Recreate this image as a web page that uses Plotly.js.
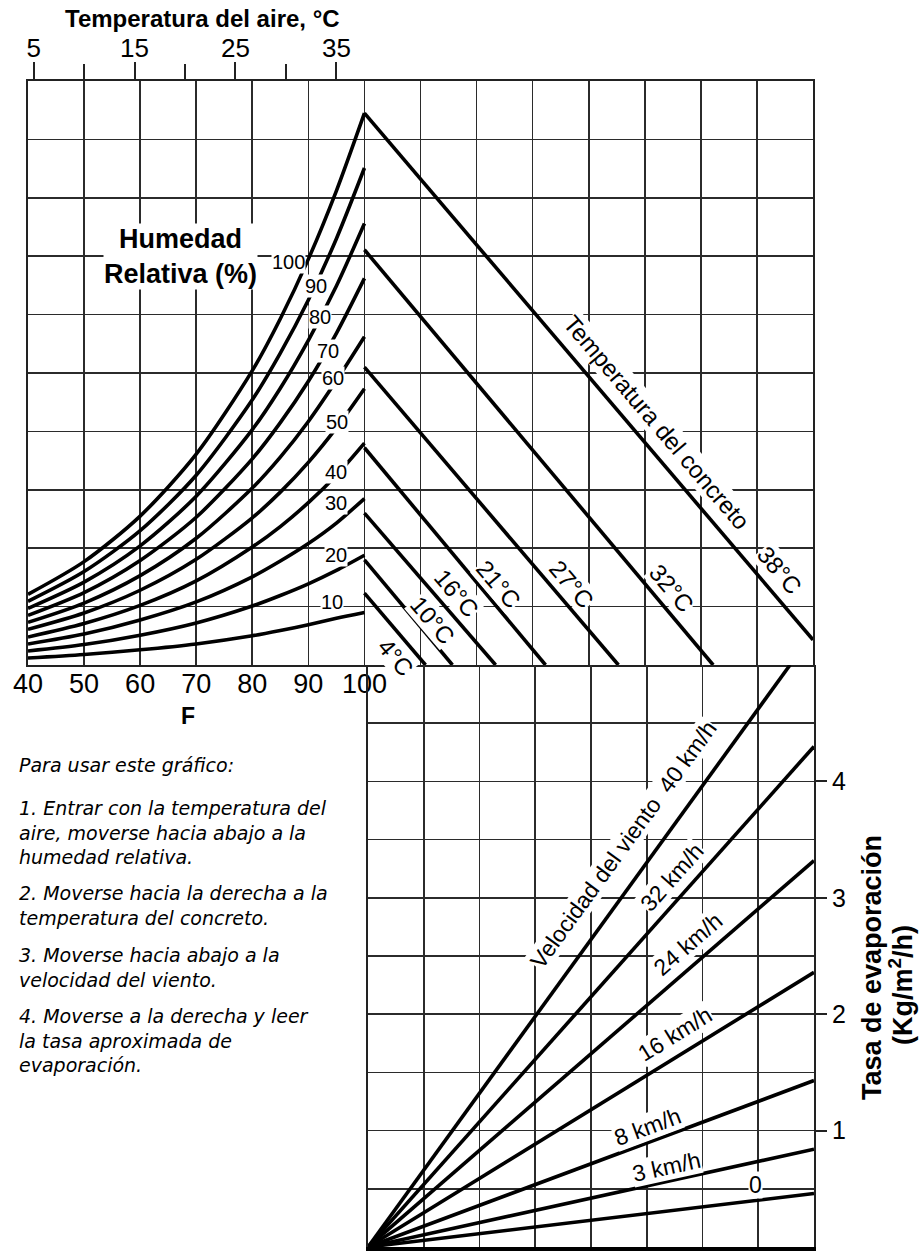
<!DOCTYPE html>
<html><head><meta charset="utf-8">
<script src="https://cdn.plot.ly/plotly-3.0.1.min.js"></script>
<style>html,body{margin:0;padding:0;background:#fff;overflow:hidden}</style>
</head><body><div id="chart" style="width:922px;height:1252px"></div>
<script>
const W = 922, H = 1252;

// ---------------- DATA ----------------
// Air temperature (°F) sample points for the relative-humidity curves
const airTempF = [40, 50, 60, 70, 80, 85, 90, 95, 100];
const rhLabels = ['100', '90', '80', '70', '60', '50', '40', '30', '20', '10'];
const rh100 = [1.21, 1.77, 2.55, 3.61, 5.04, 5.93, 6.95, 8.12, 9.45];
const rh90  = [1.09, 1.60, 2.30, 3.25, 4.54, 5.34, 6.25, 7.30, 8.51];
const rh80  = [0.97, 1.42, 2.04, 2.89, 4.03, 4.74, 5.56, 6.49, 7.56];
const rh70  = [0.85, 1.24, 1.79, 2.53, 3.53, 4.15, 4.86, 5.68, 6.62];
const rh60  = [0.73, 1.06, 1.53, 2.17, 3.03, 3.56, 4.17, 4.87, 5.62];
const rh50  = [0.61, 0.89, 1.28, 1.81, 2.52, 2.96, 3.47, 4.06, 4.73];
const rh40  = [0.48, 0.71, 1.02, 1.44, 2.02, 2.37, 2.78, 3.25, 3.80];
const rh30  = [0.36, 0.53, 0.77, 1.08, 1.51, 1.78, 2.08, 2.43, 2.85];
const rh20  = [0.24, 0.35, 0.51, 0.72, 1.01, 1.19, 1.39, 1.62, 1.88];
const rh10  = [0.12, 0.18, 0.26, 0.36, 0.50, 0.59, 0.69, 0.80, 0.90];
const rhSeries = [rh100, rh90, rh80, rh70, rh60, rh50, rh40, rh30, rh20, rh10];

// Concrete temperature lines (start at 100 °F column, run down-right)
const concreteLabels = ['4°C', '10°C', '16°C', '21°C', '27°C', '32°C', '38°C'];
const concreteStartVal = [1.23, 1.80, 2.60, 3.72, 5.10, 7.11, 9.45];
const concreteEndX = [110.9, 115.7, 123.4, 132.3, 145.3, 162.2, 180];
const concreteEndVal = [0, 0, 0, 0, 0, 0, 0.43];

// Wind-speed lines (from origin of lower panel)
const windLabels = ['0', '3 km/h', '8 km/h', '16 km/h', '24 km/h', '32 km/h', 'Velocidad del viento  40 km/h'];
const windEndX = [180, 180, 180, 180, 180, 180, 175.7];
const windEndRate = [0.46, 0.84, 1.43, 2.36, 3.32, 4.30, 5.0];

// Axis ticks
const fTicks = [40, 50, 60, 70, 80, 90, 100];
const fTickText = ['40', '50', '60', '70', '80', '90', '100'];
const cTicks = [5, 15, 25, 35];
const cTickText = ['5', '15', '25', '35'];
const cMinorTicks = [10, 20, 30];
const rateTicks = [1, 2, 3, 4];
const rateTickText = ['1', '2', '3', '4'];

const instructionParagraphs = [
  ['Para usar este gráfico:'],
  ['1. Entrar con la temperatura del', 'aire, moverse hacia abajo a la', 'humedad relativa.'],
  ['2. Moverse hacia la derecha a la', 'temperatura del concreto.'],
  ['3. Moverse hacia abajo a la', 'velocidad del viento.'],
  ['4. Moverse a la derecha y leer', 'la tasa aproximada de', 'evaporación.']
];

// ---------------- STYLE ----------------
const FONT = 'Liberation Sans, Arial, sans-serif';
const GRID = '#2b2b2b';
const LINE_W = 3.6;
const px = (x) => x / W;
const py = (y) => 1 - y / H;

const traces = [];
rhSeries.forEach((ys) => {
  traces.push({x: airTempF, y: ys, xaxis: 'x', yaxis: 'y', mode: 'lines',
    line: {color: '#000', width: LINE_W, shape: 'spline', smoothing: 0.8},
    hoverinfo: 'skip', showlegend: false});
});
concreteLabels.forEach((lab, i) => {
  traces.push({x: [100, concreteEndX[i]], y: [concreteStartVal[i], concreteEndVal[i]],
    xaxis: 'x', yaxis: 'y', mode: 'lines', line: {color: '#000', width: LINE_W},
    hoverinfo: 'skip', showlegend: false});
});
windLabels.forEach((lab, i) => {
  traces.push({x: [100, windEndX[i]], y: [0, windEndRate[i]],
    xaxis: 'x2', yaxis: 'y2', mode: 'lines', line: {color: '#000', width: LINE_W},
    hoverinfo: 'skip', showlegend: false});
});
// carrier trace for the Celsius top axis
traces.push({x: [cTicks[0], cTicks[cTicks.length - 1]], y: [0, 0], xaxis: 'x3', yaxis: 'y',
  mode: 'markers', marker: {opacity: 0, size: 1}, hoverinfo: 'skip', showlegend: false});

const annotations = [];
function ann(text, x, y, opt) {
  const o = Object.assign({size: 20, angle: 0, bg: null, xanchor: 'center', align: 'center', bold: false, italic: false, family: FONT}, opt || {});
  const a = {
    text: o.bold ? '<b>' + text + '</b>' : (o.italic ? '<i>' + text + '</i>' : text),
    x: px(x), y: py(y), xref: 'paper', yref: 'paper', showarrow: false,
    xanchor: o.xanchor, yanchor: 'middle', textangle: o.angle, align: o.align,
    font: {family: o.family, size: o.size, color: '#000'}
  };
  if (o.bg) { a.bgcolor = o.bg; a.borderpad = 0; }
  annotations.push(a);
}

// Titles
ann('Temperatura del aire, °C', 202, 18, {size: 24, bold: true});
ann('Humedad<br>Relativa (%)', 180, 256, {size: 27, bold: true, bg: '#fff'});
ann('F', 188, 716, {size: 23, bold: true});

// RH labels
const rhLabelPos = [[288, 262], [316, 286], [320, 317], [328, 351], [333, 378], [337, 422], [336, 472], [336, 503], [336, 555], [332, 602]];
rhLabels.forEach((t, i) => ann(t, rhLabelPos[i][0], rhLabelPos[i][1], {size: 20, bg: '#fff'}));

// Concrete labels
const cAng = 49.6;
ann('Temperatura del concreto', 657, 422, {size: 24, angle: cAng, bg: '#fff'});
const concreteLabelPos = [[396, 657], [433, 620], [457, 593], [499, 584], [572, 584], [672, 588], [780, 570]];
concreteLabels.forEach((t, i) => ann(t, concreteLabelPos[i][0], concreteLabelPos[i][1], {size: 24, angle: cAng, bg: '#fff'}));

// Wind labels
const windLabelPos = [[755, 1185], [666, 1167], [647, 1127], [675, 1034], [688, 944], [672, 877], [623, 845]];
const windAngles = [0, -12.4, -20.4, -31.7, -41, -48.3, -54];
windLabels.forEach((t, i) => ann(t, windLabelPos[i][0], windLabelPos[i][1], {size: 23, angle: windAngles[i], bg: '#fff'}));

// Right axis title
ann('Tasa de evaporación', 872, 968, {size: 27, bold: true, angle: -90});
ann('(Kg/m<sup>2</sup>/h)', 901, 985, {size: 27, bold: true, angle: -90});

// Instructions (one block per paragraph)
const instrCenters = [765, 832, 905, 967, 1040];
instructionParagraphs.forEach((lines, i) => ann(lines.join('<br>'), 17, instrCenters[i],
  {size: 19, italic: true, xanchor: 'left', align: 'left', family: 'DejaVu Sans, Open Sans, sans-serif'}));

const gridCommon = {showgrid: true, gridcolor: GRID, gridwidth: 1.6, zeroline: false, fixedrange: true};

const layout = {
  width: W, height: H,
  margin: {l: 0, r: 0, t: 0, b: 0, pad: 0},
  paper_bgcolor: '#fff', plot_bgcolor: '#fff',
  showlegend: false,
  xaxis: Object.assign({}, gridCommon, {
    domain: [px(28), px(813)], range: [40, 180], anchor: 'y',
    tickmode: 'array', tickvals: fTicks, ticktext: fTickText, ticks: '',
    ticklabelstandoff: -6,
    minor: {tickmode: 'linear', tick0: 40, dtick: 10, showgrid: true, gridcolor: GRID, gridwidth: 1.6, ticks: ''},
    showline: true, linecolor: '#222', linewidth: 2, mirror: true,
    tickfont: {family: FONT, size: 27, color: '#000'}
  }),
  yaxis: Object.assign({}, gridCommon, {
    domain: [py(665), py(81)], range: [0, 10], anchor: 'x', dtick: 1, tick0: 0,
    showticklabels: false, ticks: '',
    showline: true, linecolor: '#222', linewidth: 2, mirror: true
  }),
  xaxis3: {
    overlaying: 'x', side: 'top', anchor: 'y', range: [(40 - 32) / 1.8, (180 - 32) / 1.8],
    tickmode: 'array', tickvals: cTicks, ticktext: cTickText,
    ticks: 'outside', ticklen: 18, tickwidth: 2, tickcolor: '#222',
    ticklabelstandoff: -5,
    minor: {tickmode: 'array', tickvals: cMinorTicks, ticks: 'outside', ticklen: 16, tickwidth: 2, tickcolor: '#222', showgrid: false},
    showgrid: false, zeroline: false, showline: false, fixedrange: true,
    tickfont: {family: FONT, size: 26, color: '#000'}
  },
  xaxis2: Object.assign({}, gridCommon, {
    domain: [px(368), px(814)], range: [100, 180], anchor: 'y2', dtick: 10, tick0: 100,
    showticklabels: false, ticks: '',
    showline: true, linecolor: '#000', linewidth: 4, mirror: false
  }),
  yaxis2: Object.assign({}, gridCommon, {
    domain: [py(1247), py(665)], range: [0, 5], anchor: 'x2', side: 'right',
    tickmode: 'array', tickvals: rateTicks, ticktext: rateTickText,
    ticks: 'outside', ticklen: 11, tickwidth: 2, tickcolor: '#222',
    minor: {tickmode: 'linear', tick0: 0, dtick: 0.5, showgrid: true, gridcolor: GRID, gridwidth: 1.6, ticks: ''},
    showline: true, linecolor: '#222', linewidth: 2, mirror: true,
    tickfont: {family: FONT, size: 25, color: '#000'}
  }),
  annotations: annotations
};

Plotly.newPlot('chart', traces, layout, {staticPlot: true, displayModeBar: false});
</script>
</body></html>
